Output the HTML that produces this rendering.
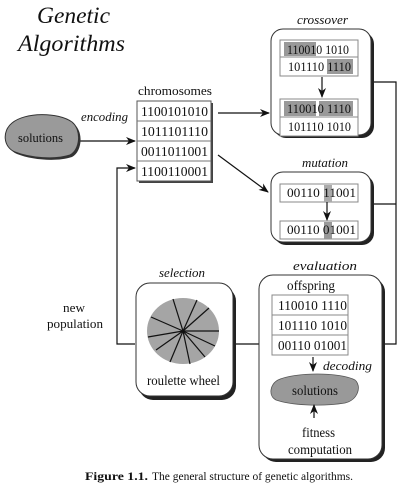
<!DOCTYPE html>
<html><head><meta charset="utf-8"><style>
html,body{margin:0;padding:0;background:#fff;}
svg{display:block;font-family:"Liberation Serif","DejaVu Serif",serif;}
svg text{font-family:"Liberation Serif","DejaVu Serif",serif;fill:#111;}
</style></head><body>
<svg width="409" height="484" viewBox="0 0 409 484" xmlns="http://www.w3.org/2000/svg" font-family="Liberation Serif, DejaVu Serif, serif">
<defs>
<marker id="ah" markerWidth="10" markerHeight="8" refX="9" refY="4" orient="auto" markerUnits="userSpaceOnUse">
<path d="M0,0 L10,4 L0,8 L3,4 z" fill="#111"/></marker>
</defs>
<rect width="409" height="484" fill="#fff"/>
<g lengthAdjust="spacingAndGlyphs">
<text x="37" y="23" font-style="italic" font-size="23" textLength="73" lengthAdjust="spacingAndGlyphs">Genetic</text>
<text x="18" y="51" font-style="italic" font-size="23" textLength="107" lengthAdjust="spacingAndGlyphs">Algorithms</text>
</g>

<g stroke="#111" stroke-width="1.2" fill="none">
<polyline points="374,82 396,82 396,344 385,344"/>
<line x1="374" y1="204" x2="396" y2="204"/>
<line x1="236" y1="344" x2="259" y2="344"/>
<polyline points="135,344 117,344 117,168 135,168" marker-end="url(#ah)"/>
<line x1="78" y1="141" x2="135" y2="141" marker-end="url(#ah)"/>
<line x1="218" y1="113" x2="269" y2="113" marker-end="url(#ah)"/>
<line x1="218" y1="155" x2="268" y2="192" marker-end="url(#ah)"/>
</g>

<path d="M12,123 C25,112 58,112 72,122 C82,130 80,150 70,155 C55,160 30,158 15,152 C3,147 2,131 12,123 z" fill="#333" transform="translate(2,2)"/>
<path d="M12,123 C25,112 58,112 72,122 C82,130 80,150 70,155 C55,160 30,158 15,152 C3,147 2,131 12,123 z" fill="#9a9a9a" stroke="#333" stroke-width="1"/>
<text x="18" y="142" font-size="13" textLength="45" lengthAdjust="spacingAndGlyphs">solutions</text>
<text x="81" y="121" font-style="italic" font-size="13" textLength="47" lengthAdjust="spacingAndGlyphs">encoding</text>

<text x="138" y="95" font-size="13" textLength="74" lengthAdjust="spacingAndGlyphs">chromosomes</text>
<rect x="139" y="103" width="74" height="80" fill="#444"/>
<rect x="137" y="101" width="74" height="80" fill="#fff" stroke="#555" stroke-width="1"/>
<g stroke="#777" stroke-width="1"><line x1="137" y1="121" x2="211" y2="121"/><line x1="137" y1="141" x2="211" y2="141"/><line x1="137" y1="161" x2="211" y2="161"/></g>
<g font-size="13.5">
<text x="141" y="116" textLength="67" lengthAdjust="spacingAndGlyphs">1100101010</text>
<text x="141" y="136" textLength="67" lengthAdjust="spacingAndGlyphs">1011101110</text>
<text x="141" y="156" textLength="67" lengthAdjust="spacingAndGlyphs">0011011001</text>
<text x="141" y="176" textLength="67" lengthAdjust="spacingAndGlyphs">1100110001</text>
</g>

<text x="297" y="24" font-style="italic" font-size="13" textLength="51" lengthAdjust="spacingAndGlyphs">crossover</text>
<rect x="274" y="32" width="100" height="106" rx="12" fill="#222"/>
<rect x="271" y="29" width="100" height="106" rx="12" fill="#fff" stroke="#333" stroke-width="1"/>
<rect x="280" y="40" width="78" height="36" fill="#fff" stroke="#888"/>
<line x1="280" y1="57" x2="358" y2="57" stroke="#888"/>
<rect x="284" y="42" width="32" height="14" fill="#999"/>
<rect x="327" y="59" width="26" height="15" fill="#999"/>
<rect x="280" y="99" width="78" height="37" fill="#fff" stroke="#888"/>
<line x1="280" y1="117" x2="358" y2="117" stroke="#888"/>
<rect x="284" y="101" width="32" height="15" fill="#999"/>
<rect x="319" y="101" width="34" height="15" fill="#999"/>
<line x1="322" y1="77" x2="322" y2="97" stroke="#111" stroke-width="1.2" marker-end="url(#ah)"/>
<g font-size="13">
<text x="287" y="54" textLength="62" lengthAdjust="spacingAndGlyphs">110010 1010</text>
<text x="288" y="71" textLength="63" lengthAdjust="spacingAndGlyphs">101110 1110</text>
<text x="287" y="113" textLength="64" lengthAdjust="spacingAndGlyphs">110010 1110</text>
<text x="288" y="131" textLength="63" lengthAdjust="spacingAndGlyphs">101110 1010</text>
</g>

<text x="302" y="167" font-style="italic" font-size="13" textLength="46" lengthAdjust="spacingAndGlyphs">mutation</text>
<rect x="274" y="175" width="100" height="70" rx="12" fill="#222"/>
<rect x="271" y="172" width="100" height="70" rx="12" fill="#fff" stroke="#333" stroke-width="1"/>
<rect x="280" y="184" width="78" height="18" fill="#fff" stroke="#888"/>
<rect x="280" y="221" width="78" height="18" fill="#fff" stroke="#888"/>
<rect x="324" y="185" width="8" height="17" fill="#aaa"/>
<rect x="324" y="222" width="8" height="17" fill="#999"/>
<line x1="327" y1="202" x2="327" y2="220" stroke="#111" stroke-width="1.2" marker-end="url(#ah)"/>
<g font-size="13">
<text x="287" y="197" textLength="69" lengthAdjust="spacingAndGlyphs">00110 11001</text>
<text x="287" y="234" textLength="69" lengthAdjust="spacingAndGlyphs">00110 01001</text>
</g>

<text x="159" y="277" font-style="italic" font-size="13" textLength="46" lengthAdjust="spacingAndGlyphs">selection</text>
<rect x="139" y="287" width="97" height="113" rx="14" fill="#222"/>
<rect x="136" y="283" width="97" height="113" rx="14" fill="#fff" stroke="#333" stroke-width="1"/>
<ellipse cx="183" cy="331" rx="36" ry="33" fill="#a5a5a5"/>
<g stroke="#111" stroke-width="1.2">
<line x1="183" y1="331" x2="173" y2="299"/>
<line x1="183" y1="331" x2="197" y2="300"/>
<line x1="183" y1="331" x2="209" y2="308"/>
<line x1="183" y1="331" x2="219" y2="331"/>
<line x1="183" y1="331" x2="215" y2="346"/>
<line x1="183" y1="331" x2="205" y2="357"/>
<line x1="183" y1="331" x2="190" y2="364"/>
<line x1="183" y1="331" x2="170" y2="362"/>
<line x1="183" y1="331" x2="156" y2="350"/>
<line x1="183" y1="331" x2="148" y2="337"/>
<line x1="183" y1="331" x2="151" y2="317"/>
</g>
<text x="147" y="385" font-size="14" textLength="73" lengthAdjust="spacingAndGlyphs">roulette wheel</text>
<text x="63" y="312" font-size="13" textLength="22" lengthAdjust="spacingAndGlyphs">new</text>
<text x="47" y="328" font-size="13" textLength="56" lengthAdjust="spacingAndGlyphs">population</text>

<text x="293" y="270" font-style="italic" font-size="13" textLength="64" lengthAdjust="spacingAndGlyphs">evaluation</text>
<rect x="262" y="278" width="123" height="184" rx="14" fill="#222"/>
<rect x="259" y="275" width="123" height="184" rx="14" fill="#fff" stroke="#333" stroke-width="1"/>
<text x="287" y="290" font-size="13.5" textLength="48" lengthAdjust="spacingAndGlyphs">offspring</text>
<rect x="272" y="295" width="76" height="60" fill="#fff" stroke="#888"/>
<line x1="272" y1="315" x2="348" y2="315" stroke="#888"/>
<line x1="272" y1="335" x2="348" y2="335" stroke="#888"/>
<g font-size="13.5">
<text x="278" y="310" textLength="69" lengthAdjust="spacingAndGlyphs">110010 1110</text>
<text x="278" y="330" textLength="69" lengthAdjust="spacingAndGlyphs">101110 1010</text>
<text x="278" y="350" textLength="69" lengthAdjust="spacingAndGlyphs">00110 01001</text>
</g>
<line x1="313" y1="357" x2="313" y2="371" stroke="#111" stroke-width="1.2" marker-end="url(#ah)"/>
<text x="323" y="370" font-style="italic" font-size="13" textLength="49" lengthAdjust="spacingAndGlyphs">decoding</text>
<path d="M278,380 C295,372 340,372 355,380 C362,386 358,400 345,403 C320,407 290,405 276,400 C268,396 270,384 278,380 z" fill="#999" stroke="#555" stroke-width="0.8"/>
<text x="292" y="395" font-size="13.5" textLength="46" lengthAdjust="spacingAndGlyphs">solutions</text>
<line x1="314" y1="418" x2="314" y2="405" stroke="#111" stroke-width="1.2" marker-end="url(#ah)"/>
<text x="302" y="437" font-size="13.5" textLength="33" lengthAdjust="spacingAndGlyphs">fitness</text>
<text x="288" y="454" font-size="13.5" textLength="64" lengthAdjust="spacingAndGlyphs">computation</text>

<text x="85" y="480" font-size="12" font-weight="bold" textLength="63" lengthAdjust="spacingAndGlyphs">Figure 1.1.</text>
<text x="152" y="480" font-size="12" textLength="201" lengthAdjust="spacingAndGlyphs">The general structure of genetic algorithms.</text>
</svg>
</body></html>
